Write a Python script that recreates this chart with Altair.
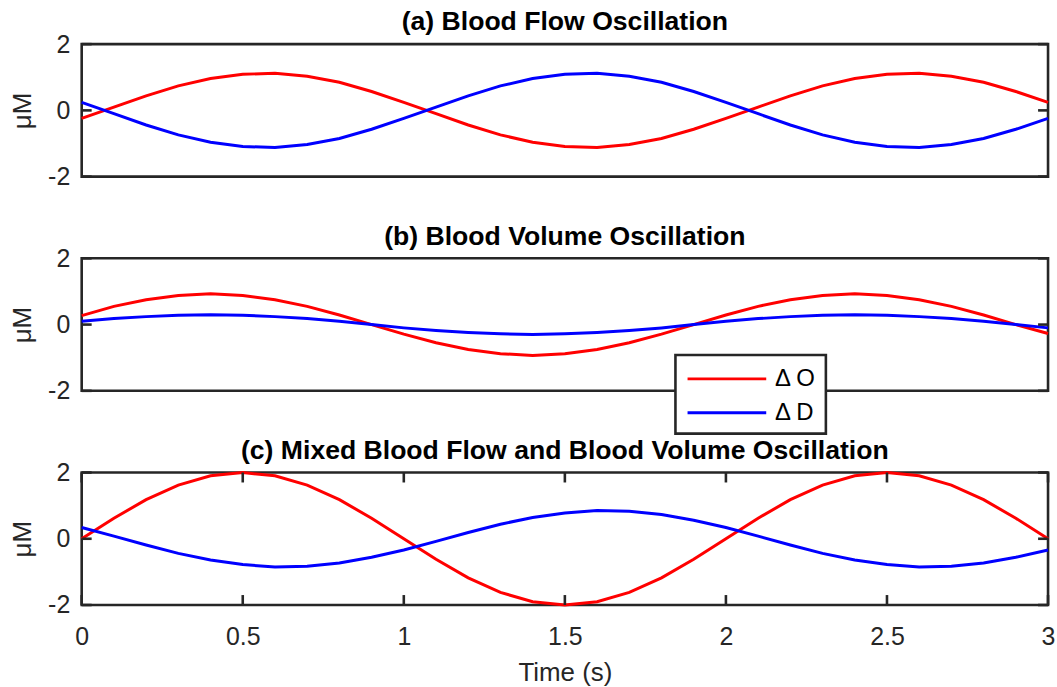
import altair as alt
import pandas as pd

# Sample times (s)
time_s = [0.0, 0.1, 0.2, 0.3, 0.4, 0.5, 0.6, 0.7, 0.8, 0.9,
          1.0, 1.1, 1.2, 1.3, 1.4, 1.5, 1.6, 1.7, 1.8, 1.9,
          2.0, 2.1, 2.2, 2.3, 2.4, 2.5, 2.6, 2.7, 2.8, 2.9, 3.0]

# (a) blood flow oscillation
flow_dO = [-0.24, 0.10, 0.44, 0.74, 0.96, 1.09, 1.12, 1.03, 0.85, 0.57,
           0.24, -0.10, -0.44, -0.74, -0.96, -1.09, -1.12, -1.03, -0.85, -0.57,
           -0.24, 0.10, 0.44, 0.74, 0.96, 1.09, 1.12, 1.03, 0.85, 0.57, 0.24]
flow_dD = [0.24, -0.10, -0.44, -0.74, -0.96, -1.09, -1.12, -1.03, -0.85, -0.57,
           -0.24, 0.10, 0.44, 0.74, 0.96, 1.09, 1.12, 1.03, 0.85, 0.57,
           0.24, -0.10, -0.44, -0.74, -0.96, -1.09, -1.12, -1.03, -0.85, -0.57, -0.24]

# (b) blood volume oscillation
vol_dO = [0.27, 0.55, 0.75, 0.88, 0.93, 0.88, 0.75, 0.55, 0.29, 0.0,
          -0.29, -0.55, -0.75, -0.88, -0.93, -0.88, -0.75, -0.55, -0.29, 0.0,
          0.29, 0.55, 0.75, 0.88, 0.93, 0.88, 0.75, 0.55, 0.29, 0.0, -0.27]
vol_dD = [0.10, 0.18, 0.24, 0.28, 0.30, 0.28, 0.24, 0.18, 0.10, 0.0,
          -0.10, -0.18, -0.24, -0.28, -0.30, -0.28, -0.24, -0.18, -0.10, 0.0,
          0.10, 0.18, 0.24, 0.28, 0.30, 0.28, 0.24, 0.18, 0.10, 0.0, -0.10]

# (c) mixed flow and volume oscillation
mix_dO = [0.0, 0.62, 1.18, 1.62, 1.90, 2.0, 1.90, 1.62, 1.18, 0.62,
          0.0, -0.62, -1.18, -1.62, -1.90, -2.0, -1.90, -1.62, -1.18, -0.62,
          0.0, 0.62, 1.18, 1.62, 1.90, 2.0, 1.90, 1.62, 1.18, 0.62, 0.0]
mix_dD = [0.34, 0.08, -0.19, -0.44, -0.64, -0.78, -0.85, -0.83, -0.73, -0.56,
          -0.34, -0.08, 0.19, 0.44, 0.64, 0.78, 0.85, 0.83, 0.73, 0.56,
          0.34, 0.08, -0.19, -0.44, -0.64, -0.78, -0.85, -0.83, -0.73, -0.56, -0.34]

series_names = ["Δ O", "Δ D"]
series_colors = ["#ff0000", "#0000ff"]
panel_titles = ["(a) Blood Flow Oscillation",
                "(b) Blood Volume Oscillation",
                "(c) Mixed Blood Flow and Blood Volume Oscillation"]
y_ticks = [-2, 0, 2]
x_ticks = [0, 0.5, 1, 1.5, 2, 2.5, 3]

W, H = 970, 133
FONT = "Liberation Sans"
INK = "#262626"
TICK_LEN = 10
TICK_W = 2.6

x_scale = alt.Scale(domain=[0, 3], nice=False, zero=False)
y_scale = alt.Scale(domain=[-2, 2], nice=False, zero=False)

# legend line: a wide path in the unit-square convention, starting near the
# entry's left edge
color = alt.Color(
    "series:N",
    scale=alt.Scale(domain=series_names, range=series_colors),
    legend=alt.Legend(
        title=None, orient="none", legendX=596, legendY=312,
        fillColor="white", strokeColor=INK, padding=9,
        symbolType="M-0.9,0H5.1", symbolStrokeWidth=3, symbolSize=693,
        labelFont=FONT, labelFontSize=24, labelColor="black",
        labelOffset=61, rowPadding=7,
    ),
)

x_axis = alt.Axis(
    values=x_ticks, labelExpr="toString(datum.value)", labelFlush=False,
    domain=False, ticks=False, grid=False,
    labelFont=FONT, labelFontSize=25, labelColor=INK, labelPadding=20,
    title="Time (s)", titleFont=FONT, titleFontSize=26,
    titleFontWeight="normal", titleColor=INK, titlePadding=10,
)
y_axis = alt.Axis(
    values=y_ticks, labelExpr="toString(datum.value)",
    domain=False, ticks=False, grid=False,
    labelFont=FONT, labelFontSize=25, labelColor=INK, labelPadding=12,
    title="μM", titleFont=FONT, titleFontSize=26,
    titleFontWeight="normal", titleColor=INK, titlePadding=12,
)


def long_frame(d_o, d_d):
    n = len(time_s)
    return pd.DataFrame({
        "t": time_s + time_s,
        "v": d_o + d_d,
        "series": [series_names[0]] * n + [series_names[1]] * n,
    })


def edge_ticks(frame, enc):
    return alt.Chart(frame).mark_tick(
        color=INK, opacity=1, thickness=TICK_W, size=TICK_LEN).encode(**enc)


def panel(df, title, with_x):
    xa = x_axis if with_x else None
    lines = alt.Chart(df).mark_line(strokeWidth=3).encode(
        x=alt.X("t:Q", scale=x_scale, axis=xa),
        y=alt.Y("v:Q", scale=y_scale, axis=y_axis),
        color=color,
    )

    # inward tick marks on the left and right edges
    ydf = pd.DataFrame({"v": y_ticks})
    yenc = alt.Y("v:Q", scale=y_scale, axis=y_axis)
    layers = [
        lines,
        edge_ticks(ydf, dict(x=alt.value(TICK_LEN / 2), y=yenc)),
        edge_ticks(ydf, dict(x=alt.value(W - TICK_LEN / 2), y=yenc)),
    ]

    if with_x:
        # inward tick marks on the top and bottom edges
        xdf = pd.DataFrame({"t": x_ticks})
        xenc = alt.X("t:Q", scale=x_scale, axis=x_axis)
        layers += [
            edge_ticks(xdf, dict(x=xenc, y=alt.value(TICK_LEN / 2))),
            edge_ticks(xdf, dict(x=xenc, y=alt.value(H - TICK_LEN / 2))),
        ]

    return alt.layer(*layers).properties(
        width=W, height=H,
        title=alt.TitleParams(title, font=FONT, fontSize=26.7, fontWeight="bold",
                              color="black", anchor="middle", offset=-4),
    )


pa = panel(long_frame(flow_dO, flow_dD), panel_titles[0], False)
pb = panel(long_frame(vol_dO, vol_dD), panel_titles[1], False)
pc = panel(long_frame(mix_dO, mix_dD), panel_titles[2], True)

chart = (
    alt.vconcat(pa, pb, pc, spacing=82, bounds="flush")
    .properties(padding={"left": 8, "top": 7, "right": 0, "bottom": 0},
                background="white")
    .configure_view(stroke=INK, strokeWidth=2.6)
    .configure_legend(strokeWidth=2.6)
)

chart.save("out.html", embed_options={"renderer": "svg", "actions": False})
